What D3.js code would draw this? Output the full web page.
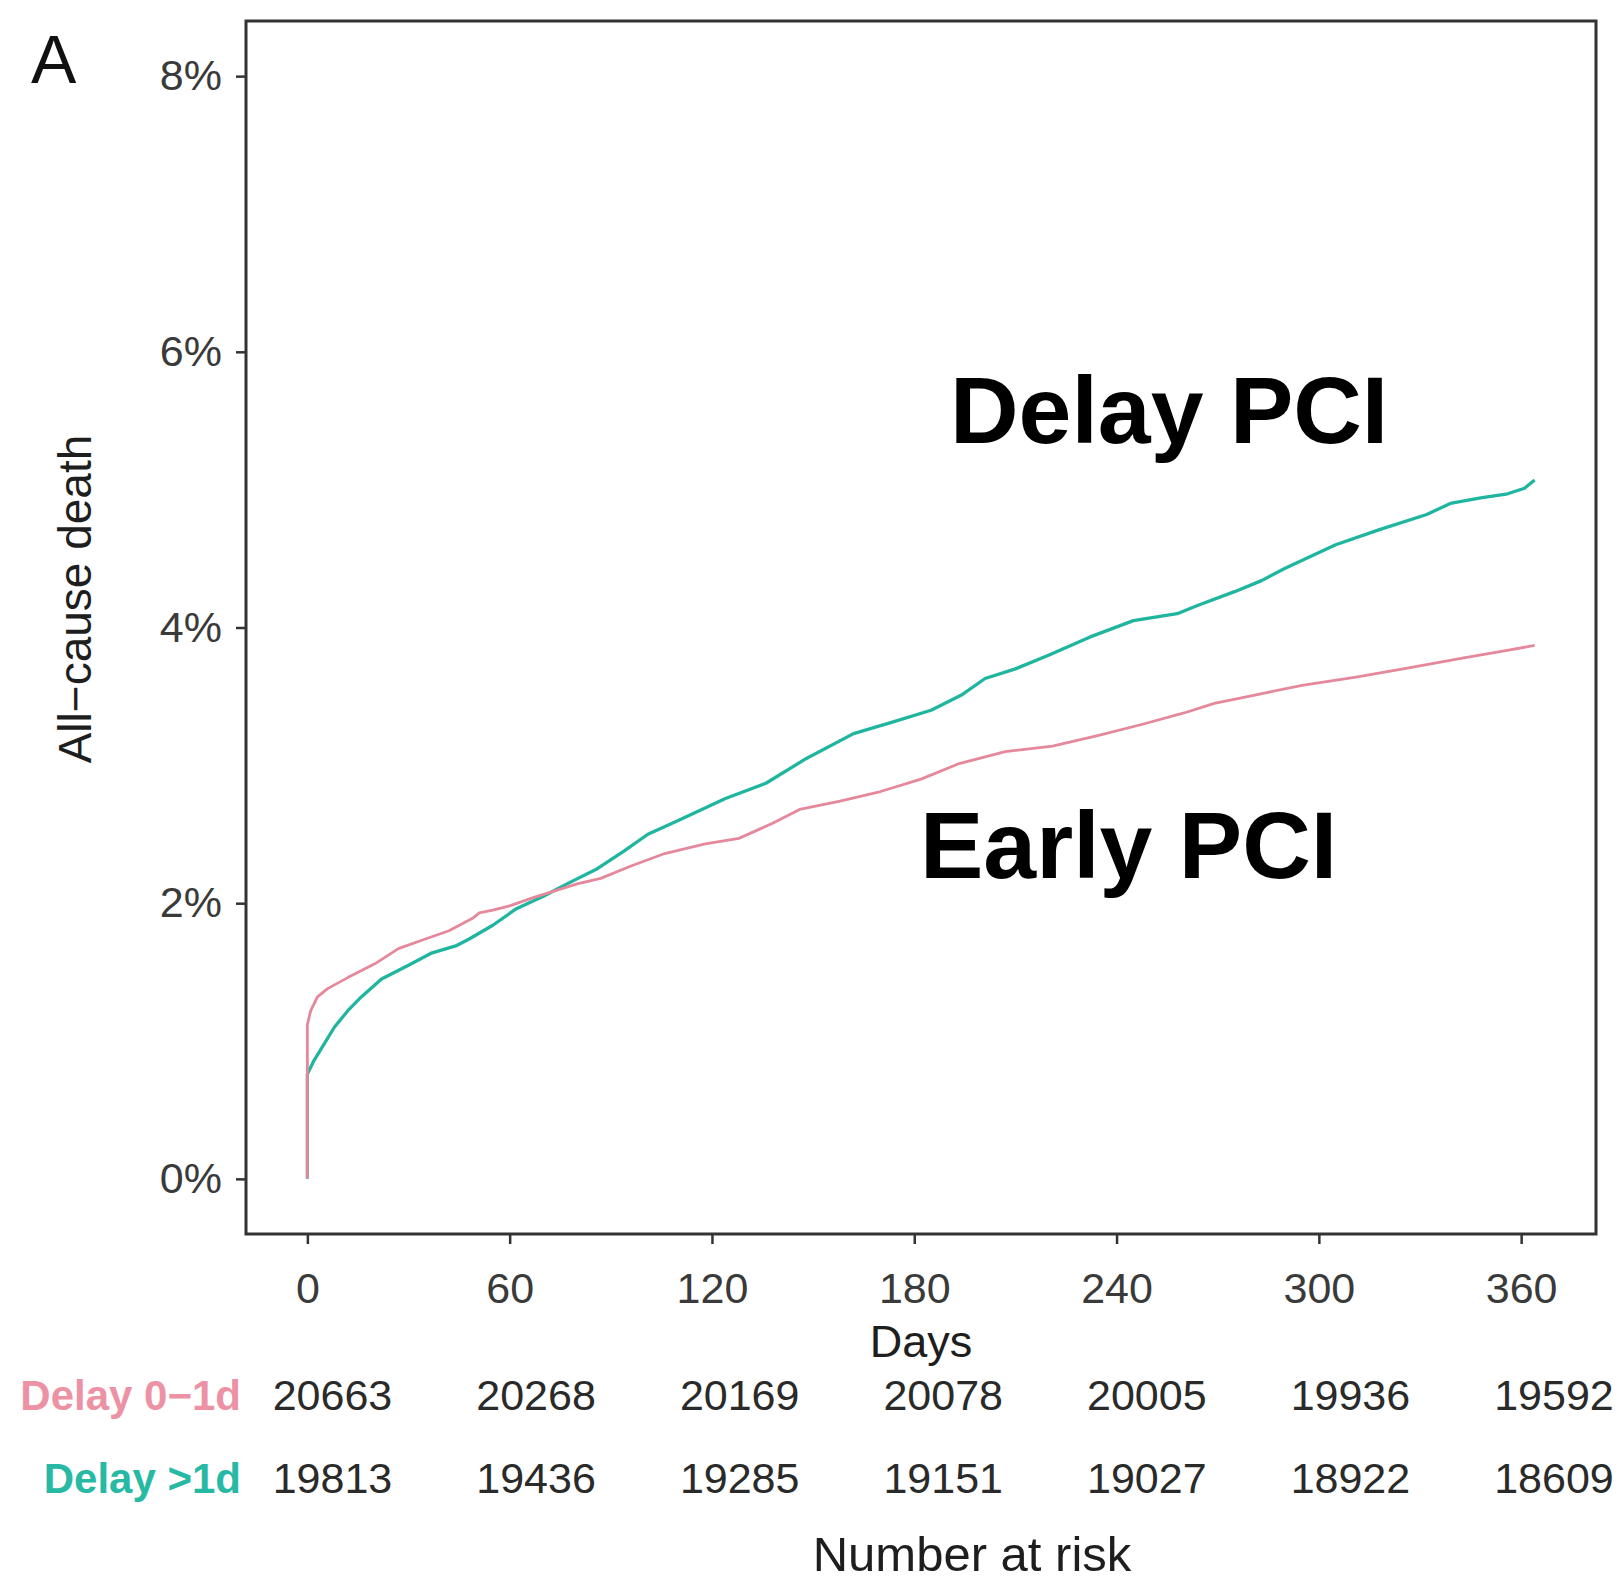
<!DOCTYPE html>
<html>
<head>
<meta charset="utf-8">
<script src="https://cdn.jsdelivr.net/npm/d3@7"></script>
<style>
  html, body { margin: 0; padding: 0; background: #ffffff; }
  svg { display: block; }
  text { font-family: "Liberation Sans", Arial, Helvetica, sans-serif; }
</style>
</head>
<body>
<svg id="chart" width="1619" height="1583"></svg>
<script>
// ---------------- data ----------------
const xTickDays = [0, 60, 120, 180, 240, 300, 360];
const yTickPct = [0, 2, 4, 6, 8];

// Cumulative all-cause death (%) by day — Delay 0–1d (Early PCI)
const earlyDays = [0, 0, 1, 3, 6, 12, 20, 27, 35, 42, 49, 51, 55, 60, 67, 80, 87, 96, 106, 118, 128, 138, 146, 158, 170, 182, 193, 207, 221, 235, 248, 260, 269, 281, 295, 311, 325, 343, 355, 364];
const earlyPct  = [0, 1.12, 1.22, 1.32, 1.38, 1.46, 1.56, 1.67, 1.74, 1.80, 1.89, 1.93, 1.95, 1.98, 2.04, 2.14, 2.18, 2.27, 2.36, 2.43, 2.47, 2.58, 2.68, 2.74, 2.81, 2.90, 3.01, 3.10, 3.14, 3.22, 3.30, 3.38, 3.45, 3.51, 3.58, 3.64, 3.70, 3.78, 3.83, 3.87];

// Cumulative all-cause death (%) by day — Delay >1d (Delay PCI)
const delayDays = [0, 0, 2, 5, 8, 12, 16, 22, 30, 37, 44, 48, 55, 62, 70, 77, 86, 94, 101, 110, 124, 136, 148, 162, 173, 185, 194, 201, 210, 220, 232, 245, 258, 264, 275, 283, 290, 305, 318, 332, 339, 348, 356, 361, 364];
const delayPct  = [0, 0.76, 0.86, 0.98, 1.10, 1.22, 1.32, 1.45, 1.55, 1.64, 1.69, 1.74, 1.84, 1.96, 2.05, 2.14, 2.25, 2.38, 2.50, 2.60, 2.76, 2.87, 3.05, 3.23, 3.31, 3.40, 3.51, 3.63, 3.70, 3.80, 3.93, 4.05, 4.10, 4.16, 4.26, 4.34, 4.43, 4.60, 4.71, 4.82, 4.90, 4.94, 4.97, 5.01, 5.07];

// Number at risk
const strataLabels = ["Delay 0\u22121d", "Delay >1d"];
const riskEarly = [20663, 20268, 20169, 20078, 20005, 19936, 19592];
const riskDelay = [19813, 19436, 19285, 19151, 19027, 18922, 18609];

const annotations = ["Delay PCI", "Early PCI"];

// ---------------- styles ----------------
const colEarly = "#e5889b";
const colDelay = "#1fb59e";
const colEarlyLabel = "#ec92a4";
const colDelayLabel = "#27b9a4";

const svg = d3.select("#chart");

const panel = { left: 246, right: 1596, top: 21, bottom: 1234 };

const x = d3.scaleLinear().domain([-18.2, 382.2]).range([panel.left, panel.right]);
const y = d3.scaleLinear().domain([-0.4, 8.4]).range([panel.bottom, panel.top]);

// ---------------- curves ----------------
const line = d3.line()
  .x(d => x(d[0]))
  .y(d => y(d[1]))
  .curve(d3.curveLinear);

const delaySeries = delayDays.map((d, i) => [d, delayPct[i]]);
const earlySeries = earlyDays.map((d, i) => [d, earlyPct[i]]);

svg.append("path")
  .datum(delaySeries)
  .attr("d", line)
  .attr("fill", "none")
  .attr("stroke", colDelay)
  .attr("stroke-width", 3.3)
  .attr("stroke-linejoin", "round");

svg.append("path")
  .datum(earlySeries)
  .attr("d", line)
  .attr("fill", "none")
  .attr("stroke", colEarly)
  .attr("stroke-width", 2.8)
  .attr("stroke-linejoin", "round");

// ---------------- axes ----------------
const tickColor = "#333333";
const labelColor = "#3a3a3a";

const yAxis = d3.axisLeft(y)
  .tickValues(yTickPct)
  .tickFormat(d => d + "%")
  .tickSize(10)
  .tickPadding(14);

const gy = svg.append("g")
  .attr("transform", `translate(${panel.left},0)`)
  .call(yAxis);
gy.select(".domain").remove();
gy.selectAll(".tick line").attr("stroke", tickColor).attr("stroke-width", 2.5);
gy.selectAll(".tick text")
  .attr("fill", labelColor)
  .style("font-size", "43px");

const xAxis = d3.axisBottom(x)
  .tickValues(xTickDays)
  .tickSize(10)
  .tickPadding(14);

const gx = svg.append("g")
  .attr("transform", `translate(0,${panel.bottom})`)
  .call(xAxis);
gx.select(".domain").remove();
gx.selectAll(".tick line").attr("stroke", tickColor).attr("stroke-width", 2.5);
gx.selectAll(".tick text")
  .attr("fill", labelColor)
  .attr("dy", null)
  .attr("y", 69)
  .style("font-size", "43px");

// panel border
svg.append("rect")
  .attr("x", panel.left)
  .attr("y", panel.top)
  .attr("width", panel.right - panel.left)
  .attr("height", panel.bottom - panel.top)
  .attr("fill", "none")
  .attr("stroke", "#333333")
  .attr("stroke-width", 3);

// axis titles
svg.append("text")
  .attr("x", (panel.left + panel.right) / 2)
  .attr("y", 1357)
  .attr("text-anchor", "middle")
  .attr("fill", "#1e1e1e")
  .style("font-size", "45px")
  .text("Days");

svg.append("text")
  .attr("transform", `translate(91,${599}) rotate(-90)`)
  .attr("text-anchor", "middle")
  .attr("fill", "#1e1e1e")
  .style("font-size", "46px")
  .text("All\u2212cause death");

// panel tag
svg.append("text")
  .attr("x", 31)
  .attr("y", 83)
  .attr("fill", "#111111")
  .style("font-size", "68px")
  .text("A");

// annotations
svg.append("text")
  .attr("x", 950)
  .attr("y", 443)
  .attr("fill", "#000000")
  .style("font-size", "95px")
  .style("font-weight", "bold")
  .text(annotations[0]);

svg.append("text")
  .attr("x", 920)
  .attr("y", 878)
  .attr("fill", "#000000")
  .style("font-size", "95px")
  .style("font-weight", "bold")
  .text(annotations[1]);

// ---------------- risk table ----------------
const xRisk = d3.scaleLinear().domain([0, 360]).range([332.5, 1554]);
const rowY = [1410, 1493];
const rows = [riskEarly, riskDelay];
const rowColors = [colEarlyLabel, colDelayLabel];

rows.forEach((vals, r) => {
  svg.append("text")
    .attr("x", 241)
    .attr("y", rowY[r])
    .attr("text-anchor", "end")
    .attr("fill", rowColors[r])
    .style("font-size", "42px")
    .style("font-weight", "bold")
    .text(strataLabels[r]);

  svg.append("g")
    .selectAll("text")
    .data(vals)
    .join("text")
    .attr("x", (d, i) => xRisk(xTickDays[i]))
    .attr("y", rowY[r])
    .attr("text-anchor", "middle")
    .attr("fill", "#2a2a2a")
    .style("font-size", "43px")
    .text(d => d);
});

svg.append("text")
  .attr("x", 972)
  .attr("y", 1571)
  .attr("text-anchor", "middle")
  .attr("fill", "#1e1e1e")
  .style("font-size", "49px")
  .text("Number at risk");
</script>
</body>
</html>
